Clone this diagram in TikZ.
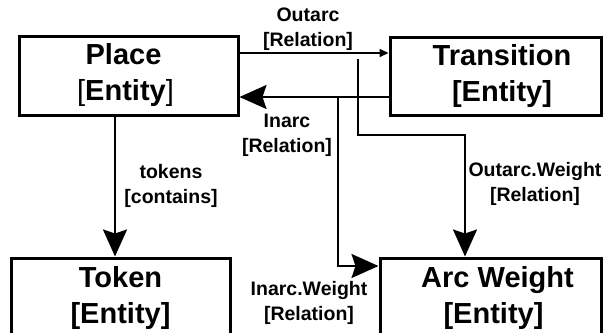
\documentclass[tikz,border=0pt]{standalone}
\usepackage{fontspec}
\setmainfont{Liberation Sans}
\usetikzlibrary{arrows.meta}
\tikzset{
  entitybox/.style={draw, line width=3pt, inner sep=0pt, align=center,
    font=\fontsize{29}{36}\selectfont\bfseries},
  rellabel/.style={inner sep=0pt, align=center,
    font=\fontsize{19.5}{25}\selectfont\bfseries},
  conn/.style={line width=2pt},
  bigarrow/.style={conn, -{Stealth[length=27pt,width=24pt,inset=4pt]}},
  smallarrow/.style={conn, -{Triangle[length=9pt,width=8pt]}}
}
\begin{document}
\begin{tikzpicture}[x=1pt,y=-1pt]
\useasboundingbox (0,0) rectangle (604,332);
\clip (0,0) rectangle (604,332);
\fill[white] (0,0) rectangle (604,332);

\node[entitybox, minimum width=219pt, minimum height=79pt] (Place) at (128.5,75.5)
  {\hspace*{-10pt}Place\\\hspace*{-6pt}{\mdseries[}Entity{\mdseries]}};
\node[entitybox, minimum width=211pt, minimum height=78pt] (Transition) at (495.5,76)
  {\hspace*{13pt}Transition\\\hspace*{13pt}[Entity]};
\node[entitybox, minimum width=219pt, minimum height=80pt] (Token) at (120.5,298)
  {Token\\{}[Entity]};
\node[entitybox, minimum width=221pt, minimum height=80pt] (ArcW) at (490.5,298)
  {\hspace*{14pt}Arc Weight\\\hspace*{6pt}[Entity]};

\coordinate (oy) at (0,53);
\coordinate (iy) at (0,97);
\coordinate (tx) at (115,0);
\coordinate (owstart) at (358,59);
\coordinate (owbend) at (465,135);
\coordinate (iwstart) at (338,97);
\coordinate (iwbend) at (338,266);

\draw[smallarrow] (Place.east |- oy) -- (Transition.west |- oy);
\draw[bigarrow] (Transition.west |- iy) -- (Place.east |- iy);
\draw[bigarrow] (Place.south -| tx) -- (Token.north -| tx);
\draw[bigarrow] (owstart) |- (owbend) -- (owbend |- ArcW.north);
\draw[bigarrow] (iwstart) -- (iwbend) -- (iwbend -| ArcW.west);

\node[rellabel] (lOut) at (308,29.3) {Outarc\\{}[Relation]};
\node[rellabel] (lIn) at (287,135) {Inarc\\{}[Relation]};
\node[rellabel] (lTok) at (171,185.5) {tokens\\{}[contains]};
\node[rellabel] (lOW) at (535,184) {Outarc.Weight\\{}[Relation]};
\node[rellabel] (lIW) at (309,302.5) {Inarc.Weight\\{}[Relation]};
\end{tikzpicture}
\end{document}
